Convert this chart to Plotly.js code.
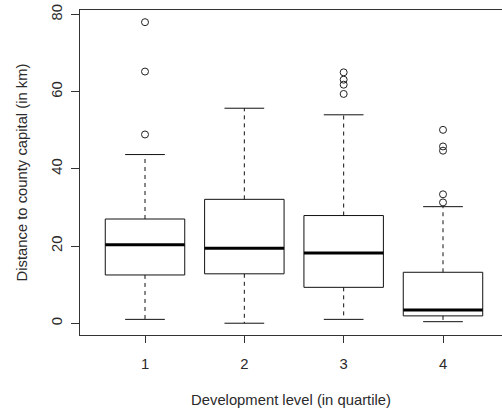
<!DOCTYPE html>
<html>
<head>
<meta charset="utf-8">
<script src="https://cdn.plot.ly/plotly-3.0.1.min.js"></script>
<style>html,body{margin:0;padding:0;background:#fff;}#chart{width:502px;height:415px;}</style>
</head>
<body>
<div id="chart"></div>
<script>
// Data (distance in km)
const categories = ['1', '2', '3', '4'];
const lowerWhisker = [1.0, 0.0, 1.0, 0.4];
const q1 = [12.5, 12.8, 9.3, 1.9];
const median = [20.3, 19.4, 18.2, 3.4];
const q3 = [27.0, 32.1, 27.9, 13.2];
const upperWhisker = [43.7, 55.7, 54.0, 30.2];
const outliers1 = [48.9, 65.2, 78.0];
const outliers2 = [];
const outliers3 = [59.4, 61.8, 63.1, 65.0];
const outliers4 = [31.3, 33.4, 44.7, 45.8, 50.1];
const outliers = [outliers1, outliers2, outliers3, outliers4];
const yTicks = [0, 20, 40, 60, 80];

const boxHalf = 0.4, capHalf = 0.2;
const ink = '#111';
const traces = [];

categories.forEach((c, i) => {
  const x = i + 1;
  // box body
  traces.push({
    type: 'scatter', mode: 'lines', hoverinfo: 'skip', showlegend: false,
    x: [x - boxHalf, x + boxHalf, x + boxHalf, x - boxHalf, x - boxHalf],
    y: [q1[i], q1[i], q3[i], q3[i], q1[i]],
    line: {color: ink, width: 1}
  });
  // whiskers (dashed)
  traces.push({
    type: 'scatter', mode: 'lines', hoverinfo: 'skip', showlegend: false,
    x: [x, x, null, x, x],
    y: [q3[i], upperWhisker[i], null, q1[i], lowerWhisker[i]],
    line: {color: ink, width: 1, dash: '4px,4px'}
  });
  // caps
  traces.push({
    type: 'scatter', mode: 'lines', hoverinfo: 'skip', showlegend: false,
    x: [x - capHalf, x + capHalf, null, x - capHalf, x + capHalf],
    y: [upperWhisker[i], upperWhisker[i], null, lowerWhisker[i], lowerWhisker[i]],
    line: {color: ink, width: 1}
  });
  // median
  traces.push({
    type: 'scatter', mode: 'lines', hoverinfo: 'skip', showlegend: false,
    x: [x - boxHalf, x + boxHalf],
    y: [median[i], median[i]],
    line: {color: '#000', width: 3}
  });
  // outliers
  if (outliers[i].length) {
    traces.push({
      type: 'scatter', mode: 'markers', showlegend: false,
      x: outliers[i].map(() => x),
      y: outliers[i],
      marker: {symbol: 'circle-open', size: 7, color: '#222', line: {width: 1}}
    });
  }
});

const font = {family: 'Liberation Sans, Arial, sans-serif', size: 14.8, color: '#2a2a2a'};

const layout = {
  width: 502, height: 415,
  margin: {l: 80, r: 0, t: 10, b: 80},
  paper_bgcolor: '#fff', plot_bgcolor: '#fff',
  font: font,
  showlegend: false,
  xaxis: {
    range: [0.3456, 4.594],
    tickmode: 'array', tickvals: [1, 2, 3, 4], ticktext: categories,
    ticks: 'outside', ticklen: 7, tickcolor: '#333', tickwidth: 1,
    showline: true, mirror: true, linecolor: '#333', linewidth: 1,
    showgrid: false, zeroline: false,
    ticklabelstandoff: 8,
    title: {text: 'Development level (in quartile)', font: font, standoff: 23}
  },
  yaxis: {
    range: [-3.05, 81.15],
    tickmode: 'array', tickvals: yTicks, ticktext: yTicks.map(String),
    tickangle: -90,
    ticks: 'outside', ticklen: 8, tickcolor: '#333', tickwidth: 1,
    showline: true, linecolor: '#333', linewidth: 1,
    showgrid: false, zeroline: false,
    ticklabelstandoff: 3,
    title: {text: 'Distance to county capital (in km)', font: font, standoff: 17}
  }
};

Plotly.newPlot('chart', traces, layout, {staticPlot: true, displayModeBar: false});
</script>
</body>
</html>
